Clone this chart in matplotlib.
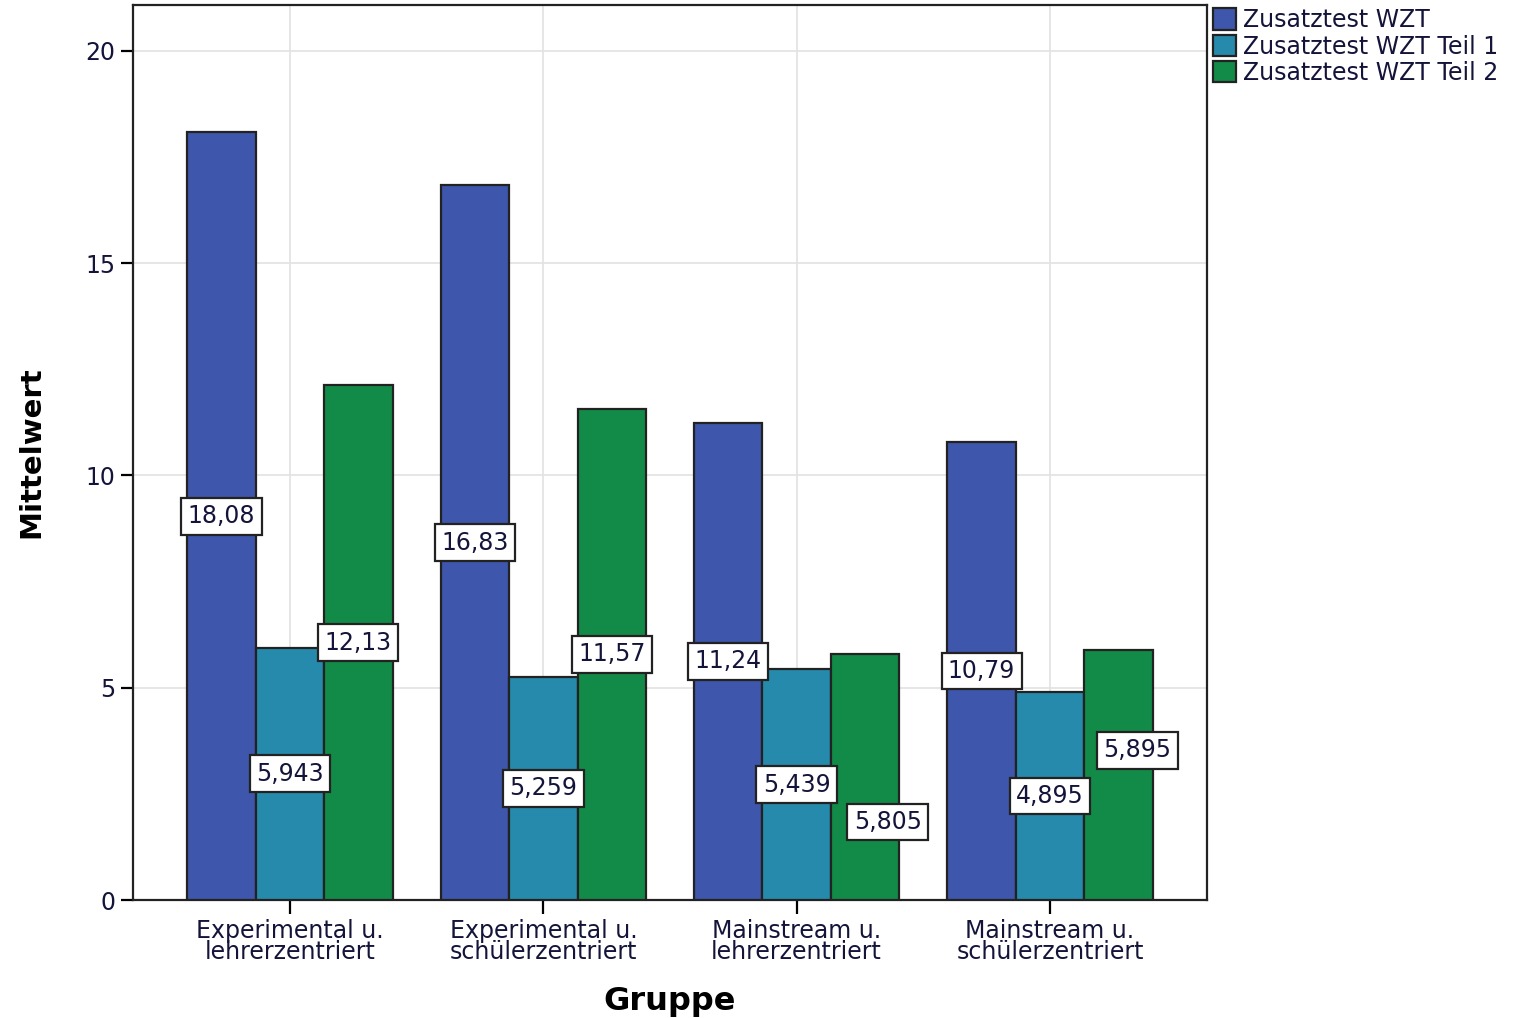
import numpy as np
import matplotlib.pyplot as plt
from matplotlib.patches import Patch

# Gruppen und Mittelwerte
gruppen = ["Experimental u.\nlehrerzentriert", "Experimental u.\nschülerzentriert",
           "Mainstream u.\nlehrerzentriert", "Mainstream u.\nschülerzentriert"]
serien = ["Zusatztest WZT", "Zusatztest WZT Teil 1", "Zusatztest WZT Teil 2"]
wzt = [18.08, 16.83, 11.24, 10.79]
teil1 = [5.943, 5.259, 5.439, 4.895]
teil2 = [12.13, 11.57, 5.805, 5.895]
labels_wzt = ["18,08", "16,83", "11,24", "10,79"]
labels_t1 = ["5,943", "5,259", "5,439", "4,895"]
labels_t2 = ["12,13", "11,57", "5,805", "5,895"]

farben = ["#3E56AB", "#258AAC", "#128B48"]
textfarbe = "#14143a"

fig = plt.figure(figsize=(15.37, 10.18), dpi=100)
ax = fig.add_axes([0.0865, 0.1159, 0.6988, 0.8792])

x = np.arange(len(gruppen))
b = 0.27
werte = [wzt, teil1, teil2]
texte = [labels_wzt, labels_t1, labels_t2]

# verschobene Beschriftungen (Serie, Gruppe) -> (dx, y), damit sich nichts überlappt
verschoben = {(2, 2): (0.09, 1.84), (2, 3): (0.075, 3.53)}

for i in range(3):
    pos = x + (i - 1) * b
    ax.bar(pos, werte[i], width=b, color=farben[i], edgecolor="#222222",
           linewidth=1.6, zorder=3)
    for j, (p, v, t) in enumerate(zip(pos, werte[i], texte[i])):
        dx, ty = verschoben.get((i, j), (0, v / 2))
        ax.text(p + dx, ty, t, ha="center", va="center", fontsize=17, color=textfarbe,
                zorder=5,
                bbox=dict(boxstyle="square,pad=0.27", fc="white", ec="#222222", lw=1.6))

ax.set_xlim(-0.62, 3.62)
ax.set_ylim(0, 21.08)
ax.set_yticks([0, 5, 10, 15, 20])
ax.set_xticks(x)
ax.set_xticklabels(gruppen, fontsize=17, linespacing=0.8, color=textfarbe)
ax.tick_params(axis="y", labelsize=17, labelcolor=textfarbe, length=9, width=1.6)
ax.tick_params(axis="x", length=10, width=1.6, pad=4)
ax.grid(True, color="#e2e2e2", linewidth=1.2, zorder=0)
for s in ax.spines.values():
    s.set_linewidth(1.6)
    s.set_color("#222222")

ax.set_xlabel("Gruppe", fontsize=23, fontweight="bold", labelpad=16)
ax.set_ylabel("Mittelwert", fontsize=21, fontweight="bold", labelpad=29)

handles = [Patch(facecolor=farben[i], edgecolor="#222222", linewidth=1.6) for i in range(3)]
fig.legend(handles, serien, loc="upper left", bbox_to_anchor=(0.789, 0.992),
           frameon=False, fontsize=17, handlelength=1.0, handleheight=1.0,
           handletextpad=0.3, labelspacing=0.1, borderpad=0.0, borderaxespad=0.0,
           labelcolor=textfarbe)

plt.savefig("out.png", dpi=100)
plt.close()
